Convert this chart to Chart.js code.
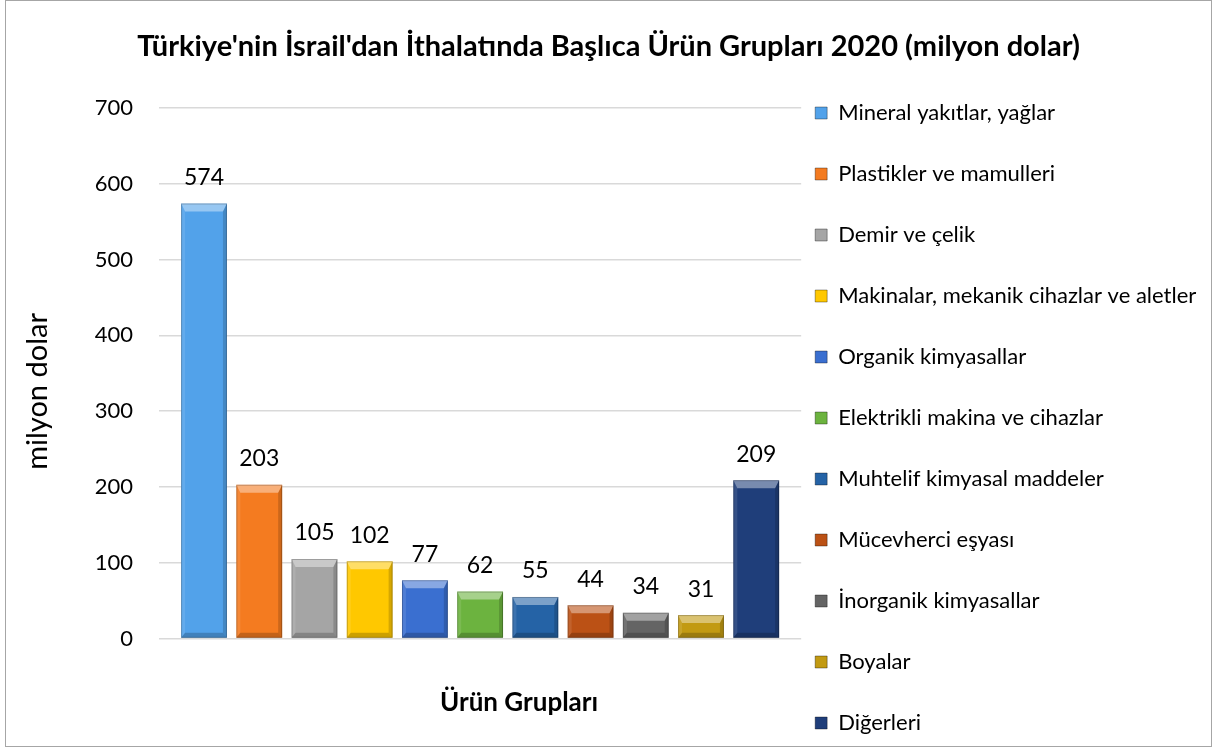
<!DOCTYPE html>
<html lang="tr">
<head>
<meta charset="utf-8">
<title>Türkiye'nin İsrail'dan İthalatında Başlıca Ürün Grupları 2020</title>
<script src="https://cdn.jsdelivr.net/npm/chart.js@4.4.1/dist/chart.umd.min.js"></script>
<style>
    html, body { margin: 0; padding: 0; background: #fff; overflow: hidden; }
    #frame {
        position: absolute; left: 5px; top: 0; width: 1207px; height: 747px;
        box-sizing: border-box; border: 1px solid #a6a6a6; overflow: hidden; background: #fff;
    }
    #frame canvas { display: block; }
</style>
</head>
<body>
<div id="frame"><canvas id="imports" width="1205" height="800"></canvas></div>
<script>
// Product groups (one series each, as in the original spreadsheet chart)
const categories = [
    'Mineral yakıtlar, yağlar',
    'Plastikler ve mamulleri',
    'Demir ve çelik',
    'Makinalar, mekanik cihazlar ve aletler',
    'Organik kimyasallar',
    'Elektrikli makina ve cihazlar',
    'Muhtelif kimyasal maddeler',
    'Mücevherci eşyası',
    'İnorganik kimyasallar',
    'Boyalar',
    'Diğerleri'
];
const values = [574, 203, 105, 102, 77, 62, 55, 44, 34, 31, 209];   // milyon dolar
const colors = [
    '#52a2ea', '#f47b20', '#a5a5a5', '#ffc800', '#3a6fd0', '#6cb33f',
    '#2563a6', '#bb5115', '#646464', '#c29a12', '#1f3e7a'
];
const yTicks = { min: 0, max: 700, step: 100 };

const FONT = 'Lato';
Chart.defaults.font.family = FONT;
Chart.defaults.color = '#000';

// Excel-like bevel on every bar, drawn from the bar element's own geometry
const bevel = {
    id: 'bevel',
    afterDatasetDraw(chart, args) {
        const ctx = chart.ctx;
        const poly = (pts, fill) => {
            ctx.beginPath();
            ctx.moveTo(pts[0][0], pts[0][1]);
            pts.slice(1).forEach(p => ctx.lineTo(p[0], p[1]));
            ctx.closePath();
            ctx.fillStyle = fill;
            ctx.fill();
        };
        ctx.save();
        args.meta.data.forEach(bar => {
            const l = bar.x - bar.width / 2, r = bar.x + bar.width / 2;
            const t = bar.y, b = bar.base;
            const e = Math.min(8, (b - t) / 2);   // top bevel depth
            const s = 4;                          // side strip
            const d = Math.min(5, (b - t) / 3);   // bottom bevel
            poly([[l, t], [r, t], [r - s, t + e], [l + s, t + e]], 'rgba(255,255,255,0.40)');
            poly([[l, t], [l + s, t + e], [l + s, b - d], [l, b]], 'rgba(255,255,255,0.10)');
            poly([[r, t], [r, b], [r - s, b - d], [r - s, t + e]], 'rgba(0,0,0,0.16)');
            poly([[l, b], [l + s, b - d], [r - s, b - d], [r, b]], 'rgba(0,0,0,0.20)');
            ctx.strokeStyle = 'rgba(0,0,0,0.22)';
            ctx.lineWidth = 1;
            ctx.strokeRect(l + 0.5, t + 0.5, r - l - 1, b - t - 1);
        });
        ctx.restore();
    }
};

// value above each bar
const valueLabels = {
    id: 'valueLabels',
    afterDatasetsDraw(chart) {
        const ctx = chart.ctx;
        ctx.save();
        ctx.font = `23px ${FONT}`;
        ctx.fillStyle = '#000';
        ctx.textAlign = 'center';
        ctx.textBaseline = 'middle';
        chart.data.datasets.forEach((ds, i) => {
            const bar = chart.getDatasetMeta(i).data[0];
            ctx.fillText(ds.data[0], bar.x, bar.y - 26);
        });
        ctx.restore();
    }
};

// legend box is capped in width by the layout; widen its clip area to the canvas edge
const wideLegend = {
    id: 'wideLegend',
    afterLayout(chart) {
        const lg = chart.legend;
        if (!lg) return;
        lg.right = chart.width;
        lg.width = lg.right - lg.left;
    }
};

new Chart(document.getElementById('imports'), {
    type: 'bar',
    data: {
        labels: [''],
        datasets: categories.map((name, i) => ({
            label: name,
            data: [values[i]],
            backgroundColor: colors[i],
            borderWidth: 0,
            categoryPercentage: 0.946,
            barPercentage: 0.83
        }))
    },
    options: {
        responsive: false,
        animation: false,
        layout: { padding: 0 },
        plugins: {
            title: {
                display: true,
                text: "Türkiye'nin İsrail'dan İthalatında Başlıca Ürün Grupları 2020 (milyon dolar)",
                font: { size: 29, weight: 'bold' },
                color: '#000',
                padding: { top: 28.6, bottom: 43.6 }
            },
            legend: {
                position: 'right',
                align: 'start',
                title: { display: true, text: '', font: { size: 10 }, padding: { top: 75, bottom: 0 } },
                labels: {
                    boxWidth: 12,
                    boxHeight: 12,
                    padding: 14,
                    color: '#000',
                    font: { size: 22, lineHeight: '47px' },
                    generateLabels(chart) {
                        const items = Chart.defaults.plugins.legend.labels.generateLabels(chart);
                        items.forEach(it => {
                            it.text = [it.text];          // multi-line form -> taller rows
                            it.strokeStyle = 'rgba(0,0,0,0.35)';
                            it.lineWidth = 1;
                        });
                        return items;
                    }
                }
            },
            tooltip: { enabled: false }
        },
        scales: {
            x: {
                grid: { display: false, drawTicks: false },
                border: { display: false },
                ticks: { display: false },
                title: {
                    display: true,
                    text: '\u2003\u2003\u2003\u2003Ürün Grupları',
                    font: { size: 26, weight: 'bold' },
                    color: '#000',
                    padding: { top: 48.2, bottom: 83 }
                }
            },
            y: {
                min: yTicks.min,
                max: yTicks.max,
                ticks: { stepSize: yTicks.step, padding: 26, font: { size: 22 }, color: '#000' },
                grid: { color: '#d9d9d9', lineWidth: 1.5, drawTicks: false },
                border: { display: false },
                title: {
                    display: true,
                    text: 'milyon dolar\u2003\u2002',
                    font: { size: 29 },
                    color: '#000',
                    padding: { top: 14, bottom: 14 }
                }
            },
            // empty spacer on the far right so the legend text has room
            spacer: {
                type: 'linear',
                position: 'right',
                weight: 2000,
                grid: { display: false, drawTicks: false },
                border: { display: false },
                ticks: { display: false },
                afterFit(scale) { scale.width = 209; }
            }
        }
    },
    plugins: [bevel, valueLabels, wideLegend]
});
</script>
</body>
</html>
